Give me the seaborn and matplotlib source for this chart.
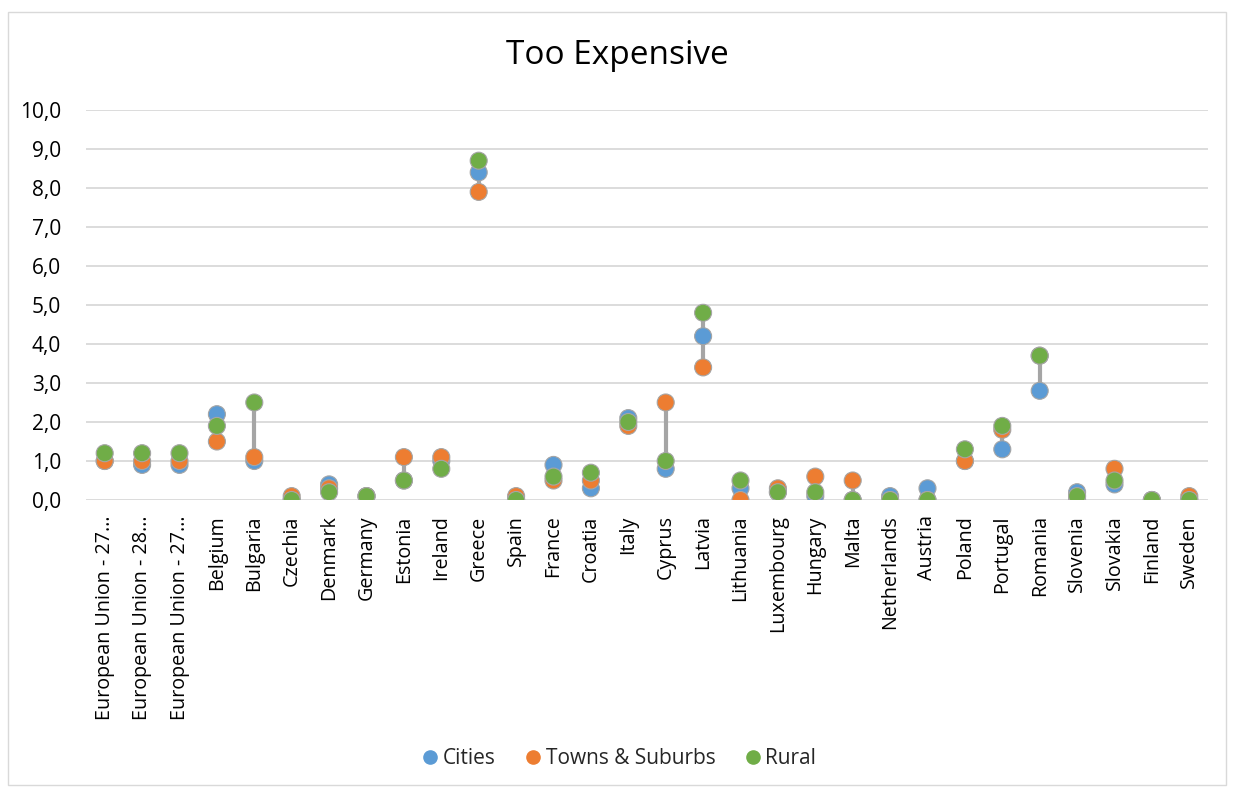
import numpy as np
import pandas as pd
import matplotlib
matplotlib.use("Agg")
import matplotlib.pyplot as plt
from matplotlib.lines import Line2D
from matplotlib.patches import Rectangle
from matplotlib.ticker import FuncFormatter, MultipleLocator
import seaborn as sns

countries = [
    "European Union - 27…", "European Union - 28…", "European Union - 27…",
    "Belgium", "Bulgaria", "Czechia", "Denmark", "Germany", "Estonia", "Ireland",
    "Greece", "Spain", "France", "Croatia", "Italy", "Cyprus", "Latvia",
    "Lithuania", "Luxembourg", "Hungary", "Malta", "Netherlands", "Austria",
    "Poland", "Portugal", "Romania", "Slovenia", "Slovakia", "Finland", "Sweden",
]
cities = [1.0, 0.9, 0.9, 2.2, 1.0, 0.0, 0.4, 0.1, 0.5, 1.0,
          8.4, 0.0, 0.9, 0.3, 2.1, 0.8, 4.2, 0.3, 0.2, 0.1,
          0.0, 0.1, 0.3, 1.0, 1.3, 2.8, 0.2, 0.4, 0.0, 0.0]
towns = [1.0, 1.0, 1.0, 1.5, 1.1, 0.1, 0.3, 0.1, 1.1, 1.1,
         7.9, 0.1, 0.5, 0.5, 1.9, 2.5, 3.4, 0.0, 0.3, 0.6,
         0.5, 0.0, 0.0, 1.0, 1.8, 3.7, 0.0, 0.8, 0.0, 0.1]
rural = [1.2, 1.2, 1.2, 1.9, 2.5, 0.0, 0.2, 0.1, 0.5, 0.8,
         8.7, 0.0, 0.6, 0.7, 2.0, 1.0, 4.8, 0.5, 0.2, 0.2,
         0.0, 0.0, 0.0, 1.3, 1.9, 3.7, 0.1, 0.5, 0.0, 0.0]
series_names = ["Cities", "Towns & Suburbs", "Rural"]
palette = ["#5B9BD5", "#ED7D31", "#70AD47"]

idx = np.arange(len(countries))
df = pd.DataFrame({
    "pos": np.tile(idx, 3),
    "value": cities + towns + rural,
    "series": np.repeat(series_names, len(countries)),
})

sns.set_theme(style="white")
plt.rcParams["font.family"] = ["Open Sans", "DejaVu Sans"]

fig = plt.figure(figsize=(12.34, 7.91), dpi=100)
ax = fig.add_axes([86 / 1234, 1 - 500 / 791, 1122 / 1234, 390 / 791])

# outer chart frame
fig.patches.append(Rectangle((8 / 1234, 6 / 791), 1218 / 1234, 773 / 791,
                             transform=fig.transFigure, fill=False,
                             edgecolor="#D9D9D9", linewidth=1.0))

# high-low connectors
wide = np.array([cities, towns, rural])
ax.vlines(idx, wide.min(axis=0), wide.max(axis=0), color="#A5A5A5",
          linewidth=3, zorder=2)

sns.scatterplot(data=df, x="pos", y="value", hue="series", hue_order=series_names,
                palette=palette, s=150, edgecolor="#A5A5A5", linewidth=0.8,
                ax=ax, zorder=3, legend=False)

ax.set_xlim(-0.5, len(countries) - 0.5)
ax.set_ylim(0, 10)
ax.yaxis.set_major_locator(MultipleLocator(1))
ax.yaxis.set_major_formatter(FuncFormatter(lambda v, p: f"{v:.1f}".replace(".", ",")))
ax.grid(axis="y", color="#D9D9D9", linewidth=1.3)
ax.set_axisbelow(True)
for s in ax.spines.values():
    s.set_visible(False)
ax.set_xticks(idx)
ax.set_xticklabels(countries, rotation=90, fontsize=14.2, color="#000000")
ax.tick_params(axis="y", labelsize=15, labelcolor="#000000", pad=12)
ax.tick_params(axis="x", pad=5)
ax.set_xlabel("")
ax.set_ylabel("")

fig.text(0.5, 1 - 55 / 791, "Too Expensive", ha="center", va="center",
         fontsize=24, color="#000000")

handles = [Line2D([0], [0], marker="o", linestyle="none", markersize=9.5,
                  markerfacecolor=c, markeredgecolor=c) for c in palette]
fig.legend(handles, series_names, loc="center", bbox_to_anchor=(0.5, 1 - 759 / 791),
           ncol=3, frameon=False, fontsize=15, handletextpad=0.0,
           columnspacing=1.2, handlelength=1.2)

fig.savefig("out.png", dpi=100)
